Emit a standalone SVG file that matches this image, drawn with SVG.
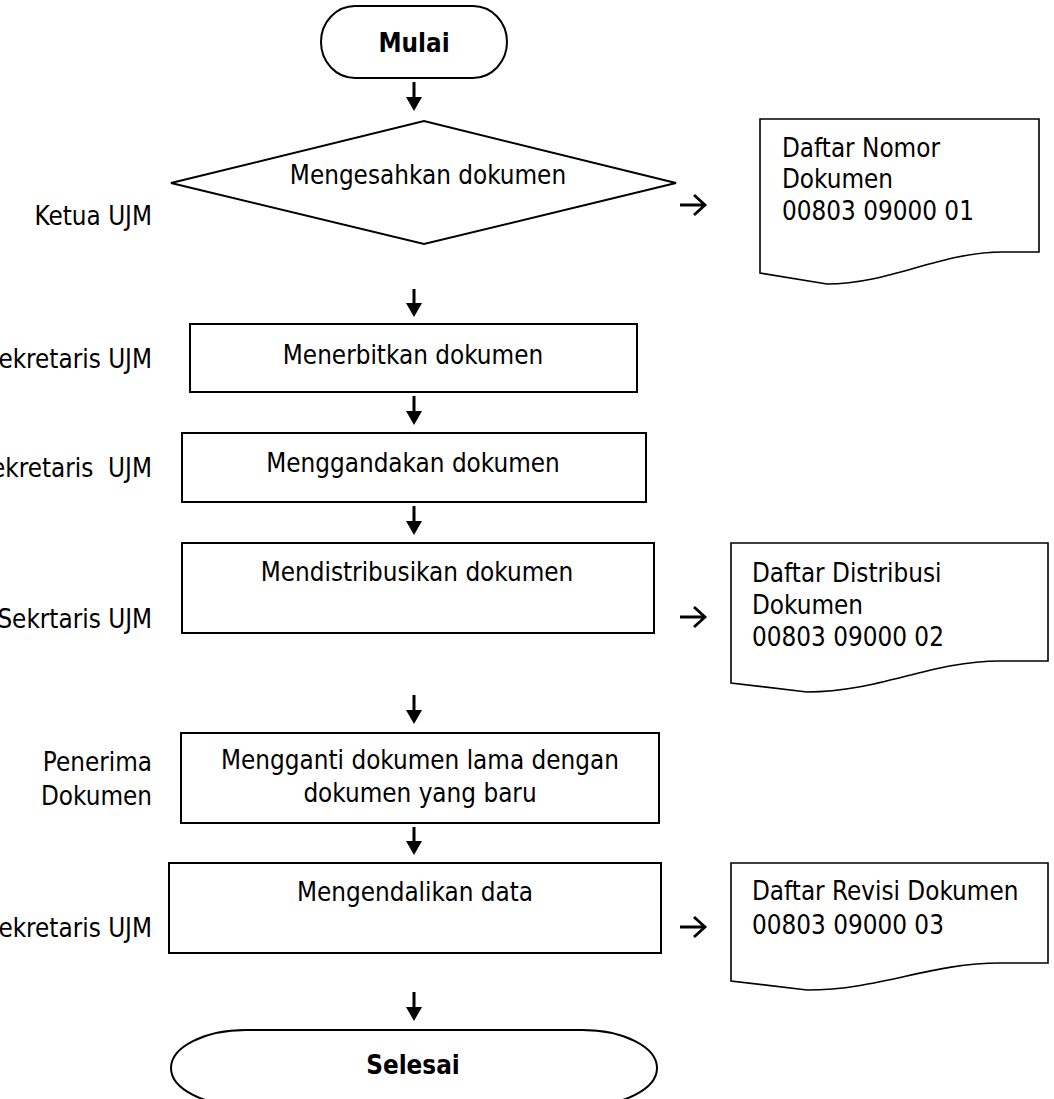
<svg xmlns="http://www.w3.org/2000/svg" width="1054" height="1099" viewBox="0 0 1054 1099">
<style>
text{font-family:"DejaVu Sans Condensed","DejaVu Sans","Liberation Sans",sans-serif;font-size:25.8px;fill:#000;white-space:pre}
.b{font-weight:bold}
.m{text-anchor:middle}
.e{text-anchor:end}
.shape{fill:#fff;stroke:#000;stroke-width:2}
.doc{fill:#fff;stroke:#000;stroke-width:1.6}
.stem{stroke:#000;stroke-width:3;fill:none}
.head{fill:#000}
.harrow{stroke:#000;stroke-width:2.8;fill:none}
</style>
<rect width="1054" height="1099" fill="#fff"/>
<g id="labels">
<text class="e" x="152" y="225">Ketua UJM</text>
<text class="e" x="152" y="368">Sekretaris UJM</text>
<text class="e" x="152" y="477">Sekretaris  UJM</text>
<text class="e" x="152" y="628">Sekrtaris UJM</text>
<text class="e" x="152" y="771">Penerima</text>
<text class="e" x="152" y="805">Dokumen</text>
<text class="e" x="152" y="937">Sekretaris UJM</text>
</g>
<g id="mulai">
<rect class="shape" x="321" y="6" width="186" height="72" rx="34" ry="36"/>
<text class="b m" x="414" y="52">Mulai</text>
</g>
<g id="mengesahkan">
<polygon class="shape" points="171,183 424,121 676,183 424,244"/>
<text class="m" x="428" y="184">Mengesahkan dokumen</text>
</g>
<g id="doc1">
<path class="doc" d="M760,119 H1039 V252 H1003 C940,252 890,284 827,284 L760,273 Z"/>
<text x="782" y="157">Daftar Nomor</text>
<text x="782" y="188">Dokumen</text>
<text x="782" y="220">00803 09000 01</text>
</g>
<g id="menerbitkan">
<rect class="shape" x="190" y="324" width="447" height="68"/>
<text class="m" x="413" y="364">Menerbitkan dokumen</text>
</g>
<g id="menggandakan">
<rect class="shape" x="182" y="433" width="464" height="69"/>
<text class="m" x="413" y="472">Menggandakan dokumen</text>
</g>
<g id="mendistribusikan">
<rect class="shape" x="182" y="543" width="472" height="90"/>
<text class="m" x="417" y="581">Mendistribusikan dokumen</text>
</g>
<g id="doc2">
<path class="doc" d="M731,543 H1048 V661 H1000 C930,661 880,692 807,692 L731,683 Z"/>
<text x="752" y="582">Daftar Distribusi</text>
<text x="752" y="614">Dokumen</text>
<text x="752" y="646">00803 09000 02</text>
</g>
<g id="mengganti">
<rect class="shape" x="181" y="733" width="478" height="90"/>
<text class="m" x="420" y="769">Mengganti dokumen lama dengan</text>
<text class="m" x="420" y="802">dokumen yang baru</text>
</g>
<g id="mengendalikan">
<rect class="shape" x="169" y="863" width="492" height="90"/>
<text class="m" x="415" y="901">Mengendalikan data</text>
</g>
<g id="doc3">
<path class="doc" d="M731,863 H1048 V963 H1000 C930,963 880,990 807,990 L731,981 Z"/>
<text x="752" y="900">Daftar Revisi Dokumen</text>
<text x="752" y="934">00803 09000 03</text>
</g>
<g id="selesai">
<rect class="shape" x="171" y="1030" width="486" height="76" rx="75" ry="38"/>
<text class="b m" x="413" y="1074">Selesai</text>
</g>
<g id="connectors">
<path class="stem" d="M414,82 V99"/><path class="head" d="M406,97 H422 L414,111 Z"/>
<path class="stem" d="M414,289 V305"/><path class="head" d="M406,303 H422 L414,317 Z"/>
<path class="stem" d="M414,396 V413"/><path class="head" d="M406,411 H422 L414,425 Z"/>
<path class="stem" d="M414,506 V523"/><path class="head" d="M406,521 H422 L414,535 Z"/>
<path class="stem" d="M414,695 V712"/><path class="head" d="M406,710 H422 L414,724 Z"/>
<path class="stem" d="M414,827 V843"/><path class="head" d="M406,841 H422 L414,855 Z"/>
<path class="stem" d="M414,992 V1009"/><path class="head" d="M406,1007 H422 L414,1021 Z"/>
<path class="harrow" d="M680,205 H704 M694,195 L705,205 L694,215"/>
<path class="harrow" d="M680,617 H704 M694,607 L705,617 L694,627"/>
<path class="harrow" d="M680,927 H704 M694,917 L705,927 L694,937"/>
</g>
</svg>
